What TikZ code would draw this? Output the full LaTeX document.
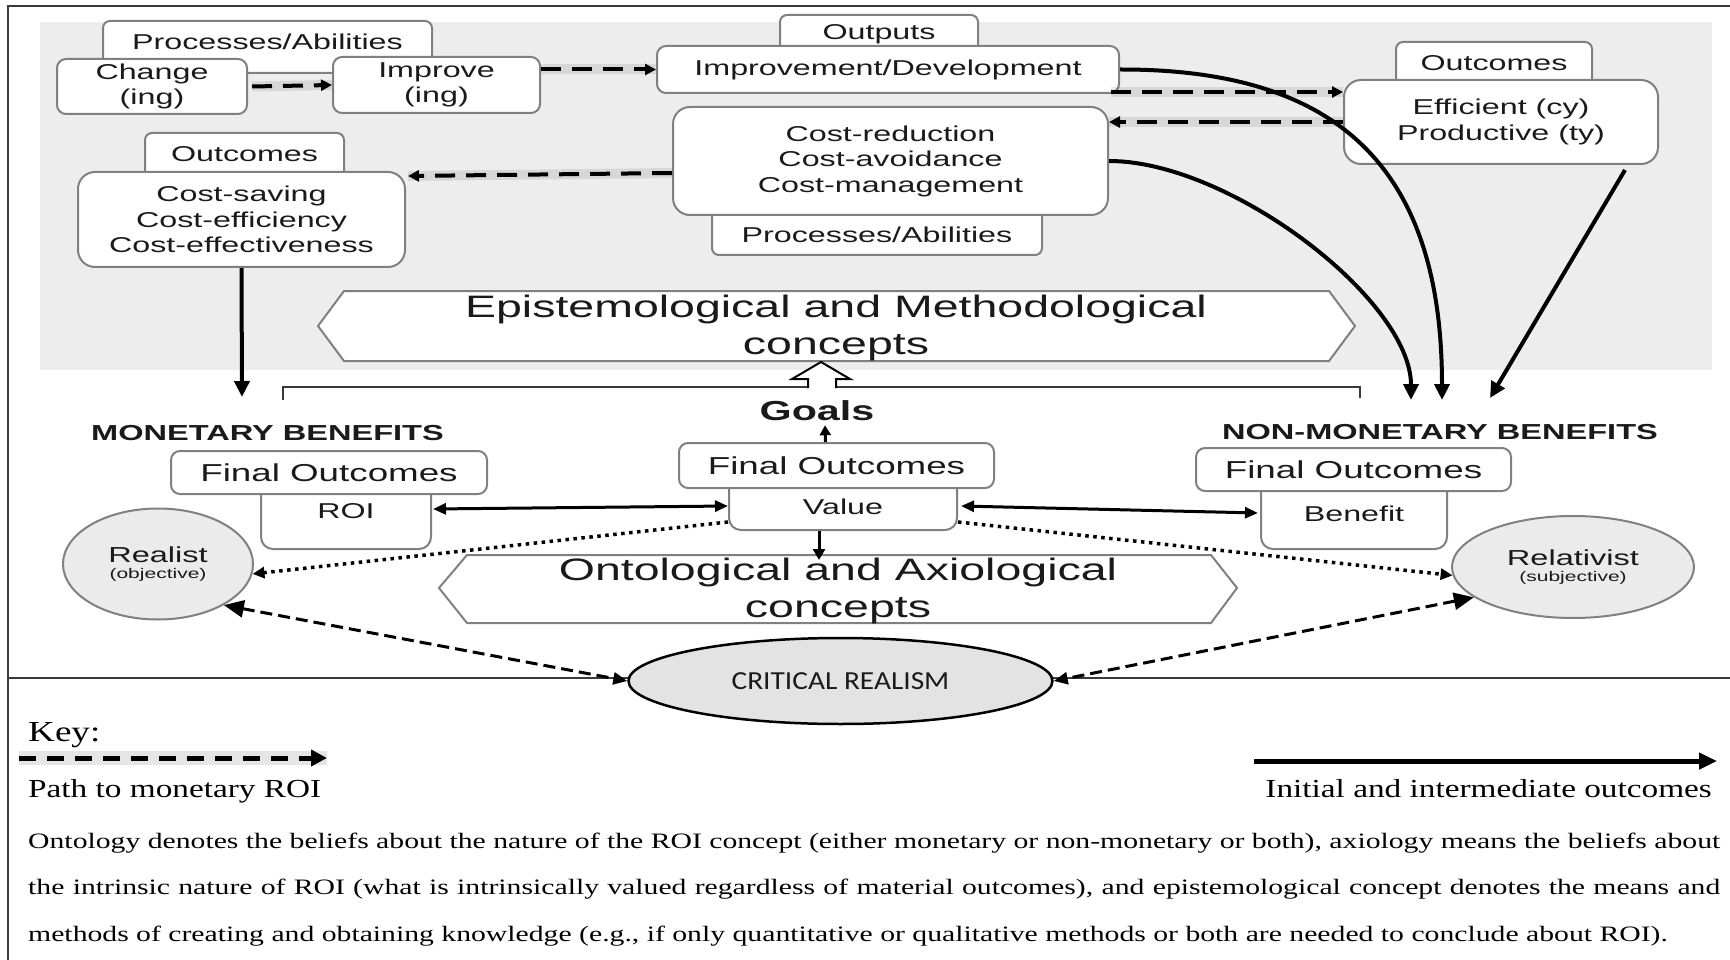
\documentclass[tikz,border=0pt]{standalone}
\usepackage{fontspec}
\usetikzlibrary{arrows.meta,calc,shapes.geometric}
\newfontfamily\dfont{Liberation Sans}[FakeStretch=1.5]
\newfontfamily\keyfont{Liberation Serif}[FakeStretch=1.28]
\newfontfamily\notefont{Liberation Serif}[FakeStretch=1.35]
\newfontfamily\crfont{Carlito}[FakeStretch=1.13]
\definecolor{panel}{HTML}{EDEDED}
\definecolor{edge}{HTML}{808080}
\definecolor{ink}{HTML}{1A1A1A}
\definecolor{framec}{HTML}{3A3A3A}
\definecolor{ovalfill}{HTML}{EBEBEB}
\definecolor{crfill}{HTML}{E3E3E3}
\tikzset{
  box/.style={draw=edge, line width=2pt, fill=white, rounded corners=9pt, inner sep=0pt,
    align=center, text=ink, font=\dfont\fontsize{21.5}{25.5}\selectfont},
  bigbox/.style={box, rounded corners=17pt},
  tabup/.style={box, rounded corners=7pt, text height=16pt, text depth=11pt},
  tabdown/.style={box, rounded corners=7pt, text height=30pt, text depth=0pt},
  finalbox/.style={box, font=\dfont\fontsize{24.5}{28}\selectfont},
  hexlabel/.style={inner sep=0pt, align=center, text=ink, font=\dfont\fontsize{31}{37}\selectfont},
  hexshape/.style={draw=edge, line width=2pt, fill=white},
  headline/.style={inner sep=0pt, text=ink, font=\dfont\bfseries\fontsize{21.7}{25}\selectfont},
  oval/.style={ellipse, draw=edge, line width=2pt, fill=ovalfill, inner sep=0pt, align=center,
    text=ink, font=\dfont\fontsize{14}{15.6}\selectfont},
  crstyle/.style={ellipse, draw=black, line width=2.5pt, fill=crfill, inner sep=0pt,
    text=ink, font=\crfont\fontsize{26}{30}\selectfont},
  keytext/.style={inner sep=0pt, text=black, font=\keyfont\fontsize{26}{30}\selectfont},
  paraline/.style={inner sep=0pt, anchor=base west, text=black, font=\notefont\fontsize{22}{46}\selectfont},
  pathdash/.style={line width=4pt, dash pattern=on 20pt off 11pt, -{Triangle[length=11pt,width=11pt]},
    preaction={draw=black, opacity=0.09, line width=10pt, -}},
  strongarrow/.style={line width=4pt, -{Triangle[length=16pt,width=15pt]}},
  twoway/.style={line width=3pt, {Triangle[length=13pt,width=11pt]}-{Triangle[length=13pt,width=11pt]}},
  dotarrow/.style={line width=3.5pt, dash pattern=on 3.5pt off 4.5pt, -{Triangle[length=12pt,width=11pt]}},
  crdash/.style={line width=3pt, dash pattern=on 12pt off 6pt,
    {Triangle[length=20pt,width=17pt]}-{Triangle[length=14pt,width=12pt]}},
}
\begin{document}
\begin{tikzpicture}[x=1pt,y=-1pt]
\useasboundingbox (0,0) rectangle (1730,960);

% shaded upper panel and frame lines
\fill[panel] (40,22) rectangle (1712,370);
\draw[framec, line width=2pt] (1730,6) -- (8,6) -- (8,960);
\draw[framec, line width=2pt] (8,678) -- (1730,678);

% tabs sitting behind the main boxes
\node[tabup, minimum width=329pt, minimum height=52pt] (tabA) at (267.5,47) {Processes/Abilities};
\node[tabup, minimum width=198pt, minimum height=45pt] (tabB) at (879,37.5) {Outputs};
\node[tabup, minimum width=196pt, minimum height=52pt] (tabC) at (1494,68) {Outcomes};
\node[tabup, minimum width=199pt, minimum height=53pt] (tabD) at (244.5,159.5) {Outcomes};
\node[tabdown, minimum width=330pt, minimum height=54pt] (tabE) at (877,228) {Processes/Abilities};

% upper boxes
\node[box, minimum width=190pt, minimum height=55pt] (change) at (152,86.5) {Change\\(ing)};
\node[box, minimum width=207pt, minimum height=56pt] (improve) at (436.5,85) {Improve\\(ing)};
\node[box, minimum width=462pt, minimum height=47pt] (impdev) at (888,69.5) {Improvement/Development};
\node[bigbox, minimum width=314pt, minimum height=84pt] (eff) at (1501,122) {Efficient (cy)\\Productive (ty)};
\node[bigbox, minimum width=435pt, minimum height=108pt] (costred) at (890.5,161) {Cost-reduction\\Cost-avoidance\\Cost-management};
\node[bigbox, minimum width=327pt, minimum height=95pt] (costsav) at (241.5,219.5) {Cost-saving\\Cost-efficiency\\Cost-effectiveness};

% concept banners
\draw[hexshape] (318,326) -- (344,291) -- (1329,291) -- (1355,326) -- (1329,361) -- (344,361) -- cycle;
\node[hexlabel] (epi) at (836,327.5) {Epistemological and Methodological\\concepts};
\draw[hexshape] (439,588) -- (467,555) -- (1211,555) -- (1237,588) -- (1211,623) -- (467,623) -- cycle;
\node[hexlabel] (onto) at (838,591) {Ontological and Axiological\\concepts};

% bracket with the hollow arrow towards the upper banner
\draw[framec, line width=2.5pt] (283,400) -- (283,387) -- (808,387);
\draw[framec, line width=2.5pt] (836,387) -- (1360,387) -- (1360,398);
\draw[black, line width=2pt, fill=white] (808,388) -- (808,379) -- (792,379) -- (821,362) -- (850,379) -- (836,379) -- (836,388);

% headings
\node[headline] (monlab) at (267.5,433) {MONETARY BENEFITS};
\node[headline] (nonmonlab) at (1440,432) {NON-MONETARY BENEFITS};
\node[headline, font=\dfont\bfseries\fontsize{27.5}{30}\selectfont] (goals) at (817,411) {Goals};

% final outcome boxes
\node[box, rounded corners=12pt, minimum width=170pt, minimum height=69pt, text height=16pt, text depth=9pt] (roi) at (346,514.5) {ROI};
\node[box, rounded corners=12pt, minimum width=228pt, minimum height=56pt, text height=24pt, text depth=0pt] (value) at (843,502) {Value};
\node[box, rounded corners=12pt, minimum width=186pt, minimum height=72pt, text height=16pt, text depth=0pt] (benefit) at (1354,513) {Benefit};
\node[finalbox, minimum width=316pt, minimum height=43pt] (foL) at (329,472.5) {Final Outcomes};
\node[finalbox, minimum width=315pt, minimum height=45pt] (foC) at (836.5,465.5) {Final Outcomes};
\node[finalbox, minimum width=315pt, minimum height=43pt] (foR) at (1353.5,469.5) {Final Outcomes};

% stances
\node[oval, minimum width=190pt, minimum height=111pt] (realist) at (158,564)
  {{\fontsize{21.7}{24}\selectfont Realist}\\(objective)};
\node[oval, minimum width=242pt, minimum height=102pt] (relativist) at (1573,567)
  {{\fontsize{21.7}{24}\selectfont Relativist}\\(subjective)};
\node[crstyle, minimum width=424pt, minimum height=86pt] (cr) at (840.5,681) {CRITICAL REALISM};

% free ends of connectors
\coordinate (nb1) at (1411,400);
\coordinate (nb2) at (1442,400);
\coordinate (nb3) at (1490,398);
\coordinate (mb) at (242,397);
\coordinate (ontotop) at (819,560);
\coordinate (de1) at (1111,92);

% dashed path to monetary ROI
\draw[pathdash] ($(change.east)+(4,0)$) -- (improve.west);
\draw[pathdash] (improve.east |- impdev.west) -- (impdev.west);
\draw[pathdash] (de1) -- (de1 -| eff.west);
\draw[pathdash] (eff.west) -- (eff.west -| costred.east);
\draw[pathdash] ($(costred.west)+(0,12)$) -- ($(costsav.north east)+(2,5)$);

% initial and intermediate outcomes
\draw[strongarrow] (impdev.east) .. controls (1330,69) and (1442,160) .. (nb2);
\draw[strongarrow] (costred.east) .. controls (1230,161) and (1411,300) .. (nb1);
\draw[strongarrow] ($(eff.south east)+(-34,5)$) -- (nb3);
\draw[strongarrow] (costsav.south) -- (mb);

% links between final outcomes
\draw[line width=3pt, -{Triangle[length=10pt,width=11pt]}] ($(foC.north)+(-11,0)$) -- ($(goals.south)+(8,4)$);
\draw[line width=3pt, -{Triangle[length=11pt,width=12pt]}] ($(value.south)+(-24,0)$) -- (ontotop);
\draw[twoway] ($(roi.east)+(1,-5.5)$) -- ($(value.west)+(0,4)$);
\draw[twoway] ($(value.east)+(3,4)$) -- ($(benefit.west)+(-2,0)$);
\draw[dotarrow] ($(value.south west)+(0,-9)$) -- (realist.-6);
\draw[dotarrow] ($(value.south east)+(0,-9)$) -- (relativist.184);
\draw[crdash] (realist.-32) -- (cr.west);
\draw[crdash] (relativist.197) -- (cr.east);

% key
\node[keytext, anchor=base west, font=\keyfont\fontsize{29}{32}\selectfont] (keyhead) at (28,741) {Key:};
\coordinate (kd1) at (19,758);
\coordinate (kd2) at (327,758);
\draw[line width=5pt, dash pattern=on 17pt off 11pt, -{Triangle[length=16pt,width=16pt]},
  preaction={draw=black, opacity=0.1, line width=14pt, -}] (kd1) -- (kd2);
\node[keytext, anchor=base west] (keypath) at (28,797) {Path to monetary ROI};
\coordinate (ks1) at (1254,761);
\coordinate (ks2) at (1717,761);
\draw[line width=5pt, -{Triangle[length=18pt,width=16pt]}] (ks1) -- (ks2);
\node[keytext, anchor=base east] (keyinit) at (1712,797) {Initial and intermediate outcomes};

% explanatory note
\node[paraline] (note1) at (28,848) {\makebox[1692pt][s]{Ontology denotes the beliefs about the nature of the ROI concept (either monetary or non-monetary or both), axiology means the beliefs about}};
\node[paraline] (note2) at (28,894.5) {\makebox[1692pt][s]{the intrinsic nature of ROI (what is intrinsically valued regardless of material outcomes), and epistemological concept denotes the means and}};
\node[paraline] (note3) at (28,941) {methods of creating and obtaining knowledge (e.g., if only quantitative or qualitative methods or both are needed to conclude about ROI).};
\end{tikzpicture}
\end{document}
